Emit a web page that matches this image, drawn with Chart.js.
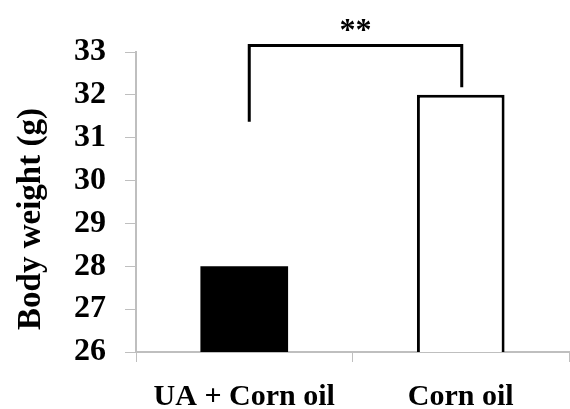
<!DOCTYPE html>
<html>
<head>
<meta charset="utf-8">
<script src="https://cdn.jsdelivr.net/npm/chart.js@4.4.1/dist/chart.umd.min.js"></script>
<style>
  html, body { margin: 0; padding: 0; background: #fff; }
  #wrap { width: 570px; height: 409px; }
</style>
</head>
<body>
<div id="wrap"><canvas id="bwChart"></canvas></div>
<script>
// ข้อมูลกราฟ
const categories = ['UA + Corn oil', 'Corn oil'];
const bodyWeight = [28, 32];
const yTicks = [26, 27, 28, 29, 30, 31, 32, 33];
const yTitle = 'Body weight (g)';
// วงเล็บแสดงนัยสำคัญ: [ขาซ้ายล่าง, ระดับบน, ขาขวาล่าง]
const bracketLevels = [31.37, 33.15, 32.18];
const sigLabel = '**';

const serif = "'Liberation Serif', 'Times New Roman', serif";
const axisGray = '#bfbfbf';

// ปลั๊กอินวาดวงเล็บ ** และชื่อแกน Y
const annotate = {
  id: 'annotate',
  afterDraw(chart) {
    const ctx = chart.ctx;
    const x = chart.scales.x, y = chart.scales.y;
    const xl = x.getPixelForValue(0) + 5;
    const xr = x.getPixelForValue(1) + 1;
    const yTop = y.getPixelForValue(bracketLevels[1]);

    ctx.save();
    ctx.strokeStyle = '#000';
    ctx.lineWidth = 3;
    ctx.beginPath();
    ctx.moveTo(xl, y.getPixelForValue(bracketLevels[0]));
    ctx.lineTo(xl, yTop);
    ctx.lineTo(xr, yTop);
    ctx.lineTo(xr, y.getPixelForValue(bracketLevels[2]));
    ctx.stroke();

    ctx.fillStyle = '#000';
    ctx.font = 'bold 32px ' + serif;
    ctx.textAlign = 'center';
    ctx.textBaseline = 'alphabetic';
    ctx.fillText(sigLabel, (xl + xr) / 2, yTop - 6);

    // ชื่อแกน Y (หมุน 90 องศา)
    ctx.translate(31, 219);
    ctx.rotate(-Math.PI / 2);
    ctx.font = 'bold 33px ' + serif;
    ctx.textBaseline = 'middle';
    ctx.fillText(yTitle, 0, 0);
    ctx.restore();
  }
};

new Chart(document.getElementById('bwChart'), {
  type: 'bar',
  data: {
    labels: categories,
    datasets: [{
      data: bodyWeight,
      backgroundColor: ['#000000', '#ffffff'],
      borderColor: '#000000',
      borderWidth: [0, 3],
      borderSkipped: false,
      barPercentage: 0.405,
      categoryPercentage: 1.0
    }]
  },
  options: {
    responsive: true,
    maintainAspectRatio: false,
    animation: false,
    layout: { padding: { top: 52, right: 1, left: 0, bottom: 0 } },
    plugins: {
      legend: { display: false },
      tooltip: { enabled: false }
    },
    scales: {
      x: {
        afterFit(scale) { scale.height = 57; },
        grid: {
          offset: true,
          drawOnChartArea: false,
          drawTicks: true,
          tickLength: 10,
          color: axisGray
        },
        border: { display: true, color: axisGray, width: 2 },
        ticks: {
          color: '#000',
          padding: 17,
          font: { family: serif, size: 30, weight: 'bold' }
        }
      },
      y: {
        min: 26,
        max: 33,
        afterFit(scale) { scale.width = 136; },
        afterBuildTicks(scale) { scale.ticks = yTicks.map(v => ({ value: v })); },
        grid: {
          drawOnChartArea: false,
          drawTicks: true,
          tickLength: 11,
          color: axisGray
        },
        border: { display: true, color: axisGray, width: 2 },
        ticks: {
          color: '#000',
          padding: 19,
          font: { family: serif, size: 32, weight: 'bold' }
        }
      }
    }
  },
  plugins: [annotate]
});
</script>
</body>
</html>
